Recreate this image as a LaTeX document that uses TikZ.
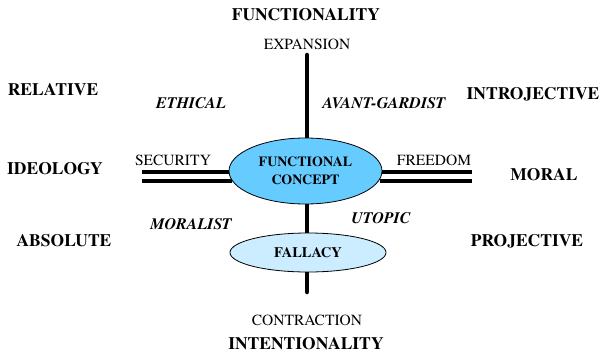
\documentclass[tikz,border=0pt]{standalone}
\usepackage{fontspec}
\newfontfamily\tms{TeX Gyre Termes}
\usetikzlibrary{shapes.geometric}
\definecolor{cblue}{RGB}{102,204,255}
\definecolor{lblue}{RGB}{204,236,255}
\begin{document}
\begin{tikzpicture}[x=1pt,y=-1pt,
  big/.style={font=\tms\fontsize{17.5}{19}\selectfont\bfseries, inner sep=0pt},
  mid/.style={font=\tms\fontsize{16}{18}\selectfont\bfseries\itshape, inner sep=0pt},
  reg/.style={font=\tms\fontsize{15.5}{17}\selectfont, inner sep=0pt},
  axis/.style={line width=4.5pt, line cap=round},
  dbl/.style={line width=4pt},
  oval/.style={ellipse, draw, line width=0.8pt, inner sep=0pt, align=center,
    font=\tms\fontsize{14}{18}\selectfont\bfseries}]
\useasboundingbox (0,0) rectangle (602,353);
% axes
\coordinate (vtop) at (307,55);
\coordinate (vbot) at (307,292);
\draw[axis] (vtop) -- (vbot);
\coordinate (l1a) at (142,172); \coordinate (l1b) at (232,172);
\coordinate (l2a) at (142,181); \coordinate (l2b) at (232,181);
\coordinate (r1a) at (380,172); \coordinate (r1b) at (472,172);
\coordinate (r2a) at (380,181); \coordinate (r2b) at (472,181);
\draw[dbl] (l1a) -- (l1b); \draw[dbl] (l2a) -- (l2b);
\draw[dbl] (r1a) -- (r1b); \draw[dbl] (r2a) -- (r2b);
% ellipses
\node[oval, fill=cblue, minimum width=153pt, minimum height=66pt] (fc) at (305.5,171) {FUNCTIONAL\\CONCEPT};
\node[oval, fill=lblue, minimum width=156pt, minimum height=39pt, font=\tms\fontsize{14.5}{18}\selectfont\bfseries] (fal) at (308,252.5) {FALLACY};
% labels
\node[big] (functionality) at (306,15) {FUNCTIONALITY};
\node[reg] (expansion) at (307,44) {EXPANSION};
\node[reg] (contraction) at (307,320) {CONTRACTION};
\node[big] (intentionality) at (306,344) {INTENTIONALITY};
\node[reg] (security) at (173,160) {SECURITY};
\node[reg] (freedom) at (434,160) {FREEDOM};
\node[big] (ideology) at (55,169) {IDEOLOGY};
\node[big] (moral) at (544,175) {MORAL};
\node[big] (relative) at (53,90) {RELATIVE};
\node[big] (introjective) at (533,94) {INTROJECTIVE};
\node[big] (absolute) at (64,241) {ABSOLUTE};
\node[big] (projective) at (527,241) {PROJECTIVE};
\node[mid] (ethical) at (191,103) {ETHICAL};
\node[mid] (avant) at (384,103) {AVANT-GARDIST};
\node[mid] (moralist) at (191,224) {MORALIST};
\node[mid] (utopic) at (381,218) {UTOPIC};
\end{tikzpicture}
\end{document}
